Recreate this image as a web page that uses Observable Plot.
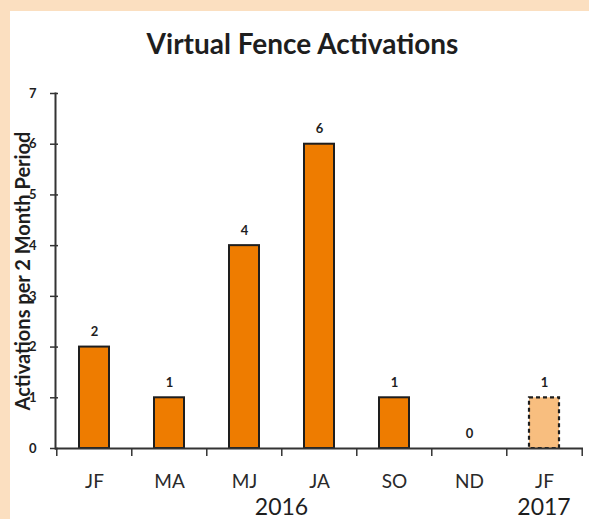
<!DOCTYPE html>
<html>
<head>
<meta charset="utf-8">
<script src="https://cdn.jsdelivr.net/npm/d3@7"></script>
<script src="https://cdn.jsdelivr.net/npm/@observablehq/plot@0.6"></script>
<style>
  html, body { margin: 0; padding: 0; }
  #wrap { position: relative; width: 589px; height: 519px; background: #FBDFC0; overflow: hidden; font-family: Lato, "Open Sans", sans-serif; }
  #panel { position: absolute; left: 10px; top: 11px; right: 0; bottom: 0; background: #fff; }
  #title { position: absolute; left: 16px; right: 0; top: 27px; text-align: center; font-size: 28px; font-weight: 700; color: #1e1e1e; line-height: 32px; }
  #chart { position: absolute; left: 0; top: 62px; }
  #chart svg { overflow: visible; }
</style>
</head>
<body>
<div id="wrap">
  <div id="panel"></div>
  <div id="title">Virtual Fence Activations</div>
  <div id="chart"></div>
</div>
<script>
// Data
const periods = ["JF", "MA", "MJ", "JA", "SO", "ND", "JF"];
const years   = ["2016", "2016", "2016", "2016", "2016", "2016", "2017"];
const counts  = [2, 1, 4, 6, 1, 0, 1];
const partial = [false, false, false, false, false, false, true];
const yTicks  = [0, 1, 2, 3, 4, 5, 6, 7];
const yLabel  = "Activations per 2 Month Period";

const rows = periods.map((p, i) => ({key: p + " " + years[i], period: p, year: years[i], count: counts[i], partial: partial[i]}));
const keys = rows.map(d => d.key);

const W = 589, H = 457;
const mL = 55, mR = 6, mT = 31, mB = 71;
const xScale = Plot.scale({x: {type: "band", domain: keys, range: [mL, W - mR], paddingInner: 0, paddingOuter: 0}});
const step = xScale.step;

const ink = "#1e1e1e";
const plot = Plot.plot({
  width: W, height: H,
  marginLeft: mL, marginRight: mR, marginTop: mT, marginBottom: mB,
  style: {fontFamily: "Lato, 'Open Sans', sans-serif", background: "transparent", color: ink},
  x: {type: "band", domain: keys, paddingInner: 0.6, paddingOuter: 0.3, axis: null},
  y: {domain: [0, 7], axis: null},
  marks: [
    Plot.barY(rows.filter(d => !d.partial), {x: "key", y: "count", fill: "#EE7C00", stroke: ink, strokeWidth: 2}),
    Plot.barY(rows.filter(d => d.partial), {x: "key", y: "count", fill: "#F8BE7F", stroke: ink, strokeWidth: 2.2, strokeDasharray: "4,3"}),
    Plot.text(rows, {x: "key", y: "count", text: d => String(d.count), dy: -15, lineAnchor: "middle", fontWeight: 700, fontSize: 13, fill: ink}),
    // y axis line and ticks
    Plot.frame({anchor: "left", stroke: "#333", strokeWidth: 2}),
    Plot.axisY({ticks: yTicks, tickFormat: d3.format("d"), tickSize: 8, dx: 3, tickPadding: 14, fontWeight: 700, fontSize: 13, stroke: "#333", strokeWidth: 1.5, fill: ink, label: null}),
    // x axis line
    Plot.ruleY([0], {stroke: "#333", strokeWidth: 2}),
    // x ticks between categories and at the end
    Plot.axisX({ticks: keys, tickSize: 8, dx: -step / 2, tickFormat: () => "", stroke: "#333", strokeWidth: 1.5, label: null}),
    Plot.axisX({ticks: [keys[keys.length - 1]], tickSize: 8, dx: step / 2, tickFormat: () => "", stroke: "#333", strokeWidth: 1.5, label: null}),
    // x category labels
    Plot.text(rows, {x: "key", text: "period", frameAnchor: "bottom", dy: 33, lineAnchor: "middle", fontSize: 19, fill: "#2a2a2a"}),
    // y axis title
    Plot.text([yLabel], {frameAnchor: "left", textAnchor: "middle", rotate: -90, dx: -32, fontWeight: 700, fontSize: 20, fill: ink})
  ]
});
document.getElementById("chart").appendChild(plot);

// Year labels under their groups, placed through Plot's x scale
const xs = plot.scale("x");
const bw = xs.bandwidth;
const svg = d3.select(plot);
const yearGroups = d3.groups(rows, d => d.year);
yearGroups.forEach(([yr, list]) => {
  const first = xs.apply(list[0].key), last = xs.apply(list[list.length - 1].key);
  const cx = (first + last + bw) / 2;
  svg.append("text")
    .attr("x", cx).attr("y", H - mB + 61)
    .attr("text-anchor", "middle").attr("dominant-baseline", "middle")
    .attr("font-size", 23).attr("fill", ink)
    .attr("font-family", "Lato, 'Open Sans', sans-serif")
    .text(yr);
});
</script>
</body>
</html>
